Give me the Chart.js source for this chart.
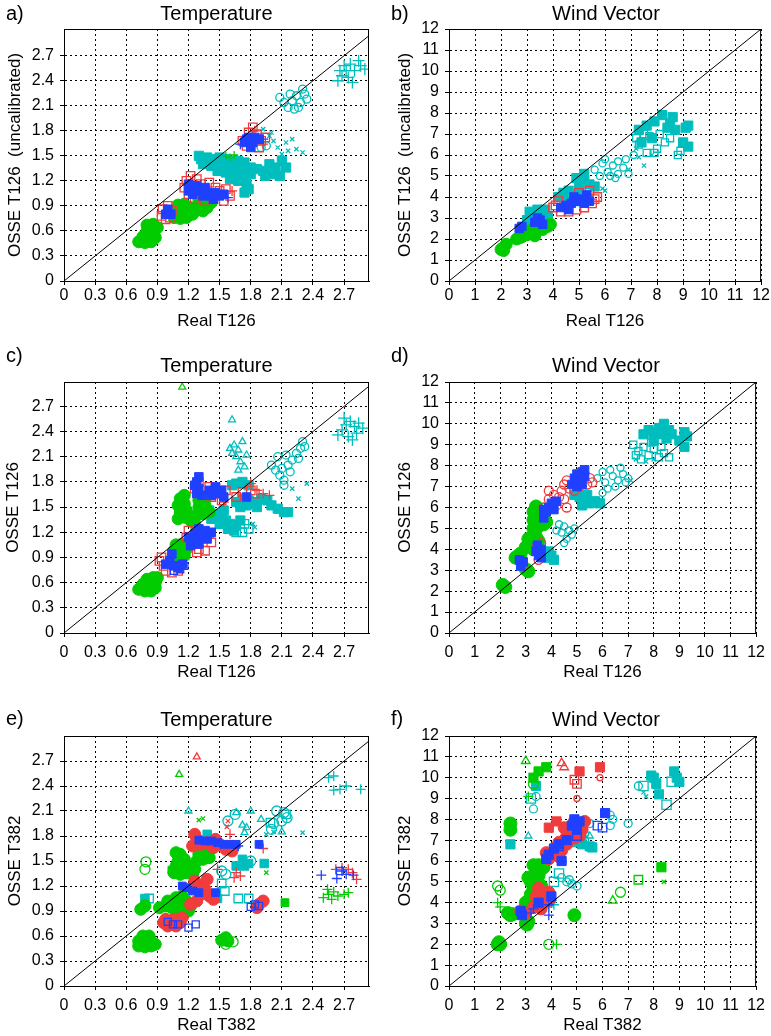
<!DOCTYPE html>
<html>
<head>
<meta charset="utf-8">
<script src="https://cdn.jsdelivr.net/npm/chart.js@4.4.0/dist/chart.umd.min.js"></script>
<style>
  body { margin: 0; background: #fff; width: 771px; height: 1036px; position: relative; overflow: hidden;
         font-family: "Liberation Sans", Arial, sans-serif; color: #000; }
  .panel { position: absolute; }
  .tag { position: absolute; font-size: 20px; line-height: 24px; }
  .ttl { position: absolute; font-size: 20px; line-height: 24px; width: 240px; text-align: center; }
</style>
</head>
<body>
<script>
// axis ticks
const tempTicks = [0, 0.3, 0.6, 0.9, 1.2, 1.5, 1.8, 2.1, 2.4, 2.7]
const tempTickLabels = ['0', '0.3', '0.6', '0.9', '1.2', '1.5', '1.8', '2.1', '2.4', '2.7']
const windTicks = [0, 1, 2, 3, 4, 5, 6, 7, 8, 9, 10, 11, 12]
const windTickLabels = ['0', '1', '2', '3', '4', '5', '6', '7', '8', '9', '10', '11', '12']
const tempDiag = [0, 3.2]
const windDiag = [0, 12]

// a) Temperature, OSSE T126 (uncalibrated) vs Real T126
const aGreen = [[0.72,0.47],[0.78,0.46],[0.84,0.47],[0.76,0.53],[0.82,0.53],[0.88,0.52],[0.8,0.6],[0.86,0.6],[0.8,0.67],[0.86,0.68],[0.9,0.64],
  [1.06,0.76],[1.12,0.75],[1.18,0.76],[1.06,0.84],[1.12,0.84],[1.18,0.84],[1.1,0.91],[1.16,0.92],[1.22,0.88],[1.24,0.8],[1.28,0.86],[1.32,0.92],[1.36,0.96],[1.3,0.98],[1.38,0.88],[1.42,0.94],[1.34,0.84]]
const aGreenCross = [[1.56,1.5],[1.6,1.48],[1.64,1.51]]
const aRed = [[0.94,0.78],[0.98,0.74],[1.02,0.76],[0.95,0.86],[1.0,0.9],[1.04,0.84],
  [1.18,1.2],[1.22,1.26],[1.28,1.22],[1.24,1.14],[1.16,1.12],[1.32,1.16],[1.3,1.04],[1.26,0.98],[1.36,0.96],[1.44,0.98],[1.5,1.08],[1.56,1.1],[1.6,1.02],[1.54,0.96],[1.46,1.12],[1.4,1.18],[1.2,1.04],
  [1.72,1.68],[1.78,1.78],[1.82,1.84],[1.86,1.76],[1.9,1.68],[1.88,1.6],[1.76,1.62],[1.94,1.72]]
const aRedCross = [[1.62,1.08],[1.84,1.8],[1.92,1.64]]
const aBlue = [[0.98,0.8],[1.0,0.86],[1.03,0.8],
  [1.2,1.16],[1.24,1.1],[1.28,1.14],[1.24,1.04],[1.3,1.08],[1.34,1.02],[1.38,1.06],[1.42,1.02],[1.46,1.06],[1.5,1.02],[1.54,1.04],[1.36,1.12],[1.2,1.08],[1.44,0.98],
  [1.74,1.66],[1.78,1.72],[1.84,1.72],[1.82,1.66],[1.88,1.7],[1.8,1.6],[1.76,1.7]]
const aBlueCross = [[1.7,1.64],[1.92,1.7],[1.58,1.0]]
const aCyanSq = [[1.32,1.46],[1.38,1.48],[1.44,1.46],[1.5,1.48],[1.56,1.46],[1.62,1.44],[1.68,1.44],[1.74,1.42],[1.34,1.4],[1.42,1.38],[1.5,1.4],[1.58,1.38],[1.66,1.36],[1.74,1.34],[1.8,1.36],[1.86,1.34],
  [1.48,1.32],[1.56,1.3],[1.64,1.28],[1.72,1.26],[1.8,1.28],[1.6,1.22],[1.68,1.2],[1.76,1.16],[1.78,1.1],[1.74,1.06],[1.92,1.32],[1.98,1.4],[2.04,1.36],[2.1,1.44],[2.14,1.36],[2.0,1.28],[2.08,1.26],[1.94,1.26],[1.3,1.5]]
const aCyanCircle = [[2.08,2.2],[2.12,2.14],[2.16,2.08],[2.2,2.16],[2.24,2.22],[2.28,2.14],[2.32,2.24],[2.26,2.08],[2.3,2.3],[2.18,2.24],[2.34,2.18],[2.22,2.06],[1.9,1.6],[1.95,1.62]]
const aCyanCross = [[2.64,2.4],[2.68,2.46],[2.72,2.52],[2.76,2.6],[2.8,2.52],[2.86,2.58],[2.9,2.54],[2.74,2.44],[2.78,2.38],[2.7,2.58],[2.84,2.64],[2.66,2.52]]
const aCyanX = [[1.92,1.82],[1.98,1.74],[2.02,1.68],[2.06,1.6],[2.1,1.52],[2.14,1.66],[2.2,1.7],[2.24,1.58],[2.3,1.54],[2.0,1.78],[2.08,1.48],[2.16,1.56]]

// b) Wind Vector, OSSE T126 (uncalibrated) vs Real T126
const bGreen = [[2.0,1.5],[2.1,1.6],[2.2,1.75],[2.1,1.45],[2.6,2.0],[2.8,2.1],[3.0,2.2],[3.2,2.3],[3.4,2.4],[3.6,2.45],[3.8,2.6],[3.9,2.7],[2.9,2.3],[3.3,2.15],[3.5,2.55],[2.7,2.05],[3.1,2.4]]
const bBlue = [[2.7,2.5],[2.8,2.6],[3.3,2.8],[3.5,2.9],[3.6,2.7],[3.4,3.0],[4.3,3.5],[4.5,3.6],[4.7,3.7],[4.9,3.8],[5.1,3.9],[5.3,4.1],[5.2,3.7],[4.6,3.4],[4.8,4.0],[5.4,3.8]]
const bRed = [[4.1,3.6],[4.3,3.3],[4.6,3.3],[4.9,3.4],[5.2,3.5],[5.5,3.7],[5.7,4.0],[5.6,3.9],[4.2,3.8],[4.0,3.5],[5.0,4.2],[5.4,4.3]]
const bCyanSq = [[3.1,3.3],[3.4,3.4],[3.6,3.2],[3.8,3.1],[3.3,3.0],[3.7,3.4],[3.0,2.9],
  [4.2,4.0],[4.4,4.2],[4.6,4.3],[4.8,4.1],[5.0,4.3],[4.5,3.8],[4.9,3.8],[5.0,4.7],[5.2,4.8],[5.4,4.6],[5.6,4.5],[5.2,5.1],[4.9,4.9],
  [7.3,7.2],[7.6,7.4],[7.9,7.6],[8.2,7.9],[8.5,7.5],[8.7,7.2],[9.1,7.3],[9.2,7.4],[9.0,6.6],[9.2,6.4],[8.4,7.3],[7.8,6.8],[7.4,6.6],[8.6,7.8]]
const bCyanOpenSq = [[7.3,6.5],[7.6,6.1],[8.0,6.3],[8.3,6.6],[8.1,7.0],[8.8,6.0],[7.7,6.9],[8.5,6.8],[7.5,7.0],[8.9,6.2],[7.9,6.1],[7.2,6.8]]
const bCyanCircle = [[5.6,5.3],[5.9,5.6],[6.1,5.2],[6.3,5.5],[6.5,5.7],[6.7,5.4],[6.2,5.0],[6.5,5.1],[6.9,5.1],[5.8,5.0],[6.0,5.8],[6.4,4.9],[6.8,5.8],[7.1,6.0]]
const bCyanX = [[7.5,5.5],[7.2,6.3],[6.9,5.3],[7.8,6.0],[7.3,5.9],[5.9,4.4],[6.0,4.3]]

// c) Temperature, OSSE T126 vs Real T126
const cGreen = [[0.72,0.52],[0.78,0.5],[0.84,0.5],[0.88,0.54],[0.76,0.58],[0.82,0.58],[0.88,0.6],[0.8,0.64],[0.86,0.66],[0.9,0.66],
  [1.05,0.9],[1.1,0.88],[1.16,0.92],[1.06,0.98],[1.12,0.98],[1.18,1.0],[1.08,1.05],[1.14,1.06],[1.2,1.06],
  [1.1,1.36],[1.16,1.38],[1.12,1.44],[1.18,1.46],[1.1,1.52],[1.16,1.54],[1.12,1.6],[1.16,1.64],
  [1.28,1.4],[1.34,1.42],[1.4,1.44],[1.3,1.5],[1.36,1.52],[1.3,1.58],[1.36,1.6],[1.22,1.34],[1.26,1.3]]
const cGreenTri = [[1.14,2.93]]
const cRed = [[0.92,0.86],[0.96,0.8],[0.98,0.74],[1.04,0.72],[1.1,0.74],[0.94,0.9],
  [1.2,1.22],[1.18,1.14],[1.24,1.06],[1.3,1.0],[1.36,0.98],[1.28,0.96],[1.42,1.08],[1.4,1.18],
  [1.26,1.72],[1.3,1.8],[1.4,1.74],[1.46,1.72],[1.5,1.66],[1.52,1.58],[1.42,1.62],[1.56,1.7],[1.66,1.62],[1.72,1.68],[1.8,1.7],[1.84,1.66]]
const cRedCross = [[1.86,1.7],[1.92,1.66],[1.98,1.64],[1.8,1.78],[1.54,1.56]]
const cBlue = [[0.98,0.82],[1.02,0.86],[1.06,0.8],[1.1,0.78],[1.04,0.94],[1.14,0.82],
  [1.2,1.14],[1.24,1.1],[1.3,1.06],[1.26,1.18],[1.32,1.14],[1.38,1.12],[1.36,1.22],[1.3,1.24],[1.42,1.2],[1.22,1.04],
  [1.28,1.66],[1.3,1.72],[1.28,1.8],[1.3,1.86],[1.33,1.64],[1.26,1.76],
  [1.42,1.64],[1.48,1.66],[1.52,1.7],[1.46,1.74],[1.54,1.62],[1.4,1.7],[1.76,1.62]]
const cBlueOpen = [[1.12,0.76],[1.06,0.74],[1.16,0.8]]
const cCyanSq = [[1.4,1.46],[1.46,1.42],[1.52,1.38],[1.42,1.36],[1.5,1.3],[1.56,1.34],[1.6,1.3],[1.66,1.28],[1.58,1.24],[1.64,1.22],[1.7,1.34],[1.54,1.46],
  [1.66,1.56],[1.72,1.6],[1.78,1.58],[1.84,1.56],[1.9,1.6],[1.96,1.58],[2.0,1.52],[1.86,1.5],[1.76,1.52],[2.06,1.48],[2.12,1.44],[2.16,1.44],[1.7,1.5],
  [1.66,1.78],[1.72,1.8],[1.78,1.76],[1.62,1.76]]
const cCyanOpenSq = [[1.66,1.2],[1.72,1.2],[1.78,1.24],[1.74,1.3]]
const cCyanTri = [[1.6,2.2],[1.64,2.24],[1.68,2.18],[1.72,2.28],[1.66,2.1],[1.7,2.04],[1.74,1.98],[1.62,2.14],[1.68,1.94],[1.76,2.12],[1.62,2.54]]
const cCyanCircle = [[2.0,2.0],[2.04,1.94],[2.08,1.88],[2.12,1.82],[2.1,1.96],[2.16,2.0],[2.14,2.12],[2.2,2.06],[2.24,2.14],[2.28,2.2],[2.32,2.22],[2.26,2.08],[2.18,1.92],[2.06,2.1],[2.3,2.28],[2.12,1.76]]
const cCyanCross = [[2.64,2.36],[2.68,2.42],[2.72,2.48],[2.76,2.52],[2.8,2.46],[2.84,2.5],[2.88,2.44],[2.74,2.34],[2.78,2.3],[2.7,2.56],[2.82,2.38]]
const cCyanX = [[2.2,1.72],[2.34,1.78],[2.26,1.6],[1.82,1.3],[1.84,1.26]]

// d) Wind Vector, OSSE T126 vs Real T126
const dGreen = [[2.1,2.3],[2.2,2.2],[3.1,2.95],[3.0,3.05],[2.7,3.7],[2.6,3.6],[2.8,3.8],[3.0,4.1],[3.2,4.3],[3.4,4.6],[3.1,4.5],[3.3,4.0],[3.5,4.4],
  [3.3,5.0],[3.5,5.1],[3.7,5.2],[3.3,5.4],[3.5,5.5],[3.7,5.6],[3.3,5.8],[3.5,5.9],[3.4,6.05],[3.8,5.3]]
const dBlue = [[2.8,3.2],[2.9,3.4],[2.75,3.5],[3.5,3.7],[3.6,4.0],[3.45,4.2],[3.4,3.9],[3.6,3.6],
  [3.7,5.5],[3.8,5.8],[3.9,6.0],[4.1,5.9],[4.0,6.2],[4.2,6.3],[3.7,5.9],
  [4.8,7.1],[4.9,7.4],[5.0,7.6],[5.1,7.3],[5.2,7.7],[5.3,7.5],[5.3,7.8],[5.0,7.0],[5.2,7.1]]
const dRed = [[3.5,3.5],[3.4,4.1],[3.6,4.3],[2.9,3.2],[3.7,6.0],[3.9,6.4],[4.1,6.6],[4.3,6.5],[4.4,6.8],[4.5,7.1],[4.6,7.3],[4.2,6.1],[4.5,6.4],[4.7,6.9],[4.9,6.8],[5.1,7.0],[5.4,7.1],[5.6,7.2],[5.5,7.4],[4.6,6.0],[3.9,6.8]]
const dCyanSq = [[4.9,6.6],[5.1,6.5],[5.3,6.3],[5.5,6.2],[5.7,6.3],[5.9,6.2],[5.4,6.6],[5.0,6.8],[5.2,6.1],
  [3.8,3.6],[4.0,3.7],[3.9,3.9],[3.7,3.8],[4.1,3.5],
  [7.6,9.5],[7.8,9.7],[8.0,9.6],[8.2,9.8],[8.4,9.9],[8.6,9.7],[8.7,9.5],[8.5,9.3],[8.3,9.5],[8.0,9.2],[9.2,9.6],[9.3,9.4],[9.2,8.9],[9.0,9.2],[8.4,10.0]]
const dCyanOpenSq = [[7.2,9.0],[7.4,8.7],[7.6,8.9],[7.8,8.5],[8.0,8.8],[8.2,8.4],[8.4,8.6],[8.6,8.4],[7.5,8.3],[7.9,9.1],[8.3,8.9],[7.3,8.5]]
const dCyanCircle = [[5.8,7.4],[6.0,7.7],[6.1,7.2],[6.3,7.8],[6.4,7.5],[6.6,7.3],[6.7,7.9],[6.8,7.6],[6.9,7.2],[6.2,6.9],[6.0,6.7],[6.5,7.0],[7.0,7.4],
  [4.3,5.2],[4.5,5.1],[4.7,4.9],[4.4,4.8],[4.6,4.5],[4.8,4.7],[4.2,4.9],[4.5,4.3],[4.9,5.0]]
const dCyanX = [[7.3,8.3],[7.7,8.2],[8.0,8.3],[7.1,7.3]]

// e) Temperature, OSSE T382 vs Real T382
const eGreen = [[0.72,0.48],[0.78,0.47],[0.84,0.48],[0.72,0.54],[0.78,0.53],[0.84,0.54],[0.76,0.6],[0.82,0.6],[0.88,0.5],
  [0.92,0.94],[0.98,0.96],[1.04,0.94],[1.1,0.92],[1.16,0.94],[1.22,0.96],[1.0,1.02],[1.06,1.0],[1.12,1.0],[1.18,1.02],[1.08,1.06],[1.14,1.08],[1.2,0.9],
  [1.06,1.36],[1.12,1.34],[1.18,1.36],[1.08,1.44],[1.14,1.42],[1.1,1.5],[1.16,1.52],[1.12,1.58],[1.08,1.6],[1.2,1.44],
  [1.28,1.5],[1.34,1.52],[1.4,1.54],[1.3,1.58],[1.36,1.6],[1.24,1.34],[1.26,1.4],
  [0.74,0.92],[0.78,0.96],[1.52,0.55],[1.58,0.54],[1.56,0.58]]
const eGreenSq = [[1.04,1.39],[2.13,1.0],[0.78,0.98]]
const eGreenCross = [[2.5,1.06],[2.55,1.1],[2.6,1.13],[2.64,1.08],[2.7,1.1],[2.58,1.04],[2.74,1.12],[2.54,1.16]]
const eGreenOpen = [[0.79,1.49],[0.78,1.4],[1.63,0.53],[1.56,0.5]]
const eGreenTri = [[1.11,2.54]]
const eGreenX = [[1.3,1.99],[1.95,1.36],[1.34,2.01]]
const eRed = [[0.96,0.76],[1.0,0.72],[1.04,0.74],[1.08,0.72],[1.12,0.76],[0.98,0.8],[1.06,0.8],[1.14,0.82],
  [1.26,1.82],[1.28,1.76],[1.32,1.7],[1.38,1.72],[1.44,1.66],[1.5,1.7],[1.56,1.64],[1.62,1.62],[1.24,1.68],[1.46,1.76],
  [1.26,1.26],[1.3,1.2],[1.36,1.16],[1.32,1.1],[1.4,1.08],[1.44,1.04],[1.28,1.02],[1.38,1.28],
  [1.88,0.98],[1.92,1.02],[1.86,0.94],[1.22,0.98]]
const eRedCross = [[1.66,1.36],[1.7,1.32],[1.64,1.3],[1.92,1.65],[2.62,1.4],[2.68,1.42],[2.74,1.4],[2.78,1.36],[2.82,1.28],[1.6,1.82],[1.48,1.4]]
const eRedTri = [[1.28,2.75]]
const eRedX = [[1.57,1.91],[1.58,1.98]]
const eBlue = [[1.14,1.2],[1.18,1.18],[1.3,1.75],[1.36,1.74],[1.42,1.74],[1.48,1.72],[1.54,1.7],[1.6,1.7],[1.66,1.7],[1.88,1.7],[1.3,1.12],[1.46,1.12],[1.24,1.14]]
const eBlueOpen = [[1.0,0.77],[1.05,0.74],[1.1,0.74],[1.2,0.7],[1.27,0.74],[1.8,0.95],[1.84,0.98],[1.88,0.96],[2.66,1.38]]
const eBlueCross = [[2.48,1.33],[2.63,1.29],[2.72,1.34],[2.79,1.33],[2.68,1.38],[1.68,1.68]]
const eCyanCross = [[2.55,2.5],[2.6,2.52],[2.6,2.35],[2.66,2.36],[2.72,2.4],[2.86,2.36]]
const eCyanCircle = [[2.05,2.1],[2.12,2.08],[2.15,2.02],[2.1,1.98],[2.02,1.95],[2.0,1.88],[1.65,2.06],[1.58,1.98],[1.52,1.38],[1.56,1.34],[1.8,1.5]]
const eCyanTri = [[1.72,1.93],[1.76,1.9],[1.8,2.1],[1.9,2.0],[2.1,1.85],[1.2,2.1],[1.66,2.08],[1.74,1.84]]
const eCyanSq = [[1.72,1.52],[1.78,1.47],[1.93,1.47],[1.66,1.44],[1.74,1.44],[1.42,1.06],[1.48,1.05],[0.78,1.05],[1.38,1.82]]
const eCyanOpenSq = [[1.55,1.14],[1.52,1.23],[1.68,1.05],[1.78,1.05],[0.82,1.05],[1.99,1.96],[2.14,2.06]]
const eCyanX = [[1.95,1.82],[2.3,1.84],[2.02,1.85]]

// f) Wind Vector, OSSE T382 vs Real T382
const fGreen = [[1.9,2.0],[2.0,2.0],[1.95,2.1],[2.4,3.4],[2.5,3.45],[2.3,3.5],[3.0,3.0],[3.1,3.1],[3.05,2.95],
  [3.1,4.1],[3.2,4.4],[3.3,4.7],[3.2,5.0],[3.3,5.3],[3.4,5.6],[3.5,5.8],[3.6,5.6],[3.5,5.3],[3.4,5.0],[3.1,5.2],[3.3,5.8],[3.0,4.0],[3.4,4.3],[3.6,4.8],[3.7,5.7],[3.2,4.0],
  [2.4,7.8],[2.4,7.5],[4.9,3.4]]
const fGreenSq = [[3.5,10.3],[3.8,10.5],[8.3,5.7],[3.3,10.0]]
const fGreenOpen = [[3.9,2.0],[1.9,4.8],[2.0,4.6],[3.3,9.7],[6.7,4.5]]
const fGreenCross = [[4.2,2.0],[1.9,4.0],[2.0,3.8],[3.1,9.1]]
const fGreenTri = [[3.0,10.8],[6.4,4.1]]
const fGreenOpenSq = [[7.4,5.1]]
const fGreenX = [[8.4,5.0]]
const fRed = [[3.9,6.1],[4.0,6.3],[4.1,6.5],[4.2,6.7],[4.3,6.9],[4.5,7.0],[4.6,7.2],[4.7,7.5],[4.8,7.7],[4.9,7.9],[5.0,7.6],[5.2,7.5],[5.1,7.2],[4.4,6.5],[4.3,6.2],[4.6,6.8],[4.9,7.1],[5.3,7.9],[4.5,7.6],[3.8,6.4],
  [3.4,4.3],[3.6,4.5],[3.8,4.3],[3.5,4.0],[3.7,4.0],[3.9,4.1],[3.3,3.8],[3.6,3.7],[2.8,3.6],[3.0,3.5],[3.9,4.5],[3.5,4.7]]
const fRedSq = [[3.9,7.6],[4.2,7.9],[5.1,10.3],[5.9,10.5]]
const fRedOpenSq = [[4.9,9.9],[5.0,9.7],[4.7,7.6]]
const fRedTri = [[4.4,10.7],[4.5,10.5]]
const fRedSmall = [[5.0,9.0],[5.9,10.0]]
const fBlue = [[4.9,8.0],[5.1,7.9],[4.8,7.7],[5.0,7.5],[3.8,6.1],[3.9,6.3],[4.1,6.6],[4.3,6.8],[4.4,6.0],[2.85,3.4],[2.8,3.6],[3.5,4.0],[4.0,4.3],[6.1,8.3],[4.6,7.0]]
const fBlueOpenSq = [[5.8,7.7],[6.0,7.6],[4.3,6.7],[5.0,7.2]]
const fBlueCross = [[3.3,3.7],[3.9,3.4],[3.9,3.9],[3.2,3.5],[4.0,4.1]]
const fCyanSq = [[5.0,6.9],[5.2,6.8],[5.5,6.7],[5.6,6.65],[4.9,7.0],[7.9,10.1],[8.1,9.7],[8.8,10.3],[9.0,9.8],[8.2,9.2],[8.0,10.0],[8.9,10.0],[2.4,6.8],[3.4,9.6]]
const fCyanOpenSq = [[7.6,9.6],[8.7,9.8],[8.5,8.7],[3.2,9.0],[4.3,5.4],[4.1,5.0]]
const fCyanCircle = [[4.4,5.2],[4.6,5.0],[4.8,4.9],[5.0,4.8],[4.7,5.1],[5.2,7.2],[5.3,7.3],[6.3,8.2],[6.4,8.0],[5.5,7.8],[7.0,7.8],[6.3,7.7],[3.3,8.5],[3.4,9.1],[7.4,9.6],[5.3,7.0]]
const fCyanCross = [[4.0,4.0],[4.1,3.9],[4.0,4.2],[3.9,3.8]]
const fCyanTri = [[3.1,7.2],[5.5,7.2]]
const fCyanX = [[7.7,9.1],[7.6,9.3],[8.2,9.9]]

const GREEN = '#00cc00', BLUE = '#2040ff', RED = '#f03c3c', CYAN = '#00bebe'

function pts(list) { return list.map(p => ({ x: p[0], y: p[1] })) }

// [data, colour, pointStyle, radius, filled]
function series(list, color, shape, r, filled) {
  return {
    data: pts(list),
    pointStyle: shape,
    pointRadius: r,
    borderWidth: filled ? 1 : 1.3,
    borderColor: color,
    backgroundColor: filled ? color : 'rgba(0,0,0,0)',
  }
}

function diagonal(d) {
  return {
    data: pts([[d[0], d[0]], [d[1], d[1]]]),
    showLine: true,
    borderColor: '#000',
    borderWidth: 1,
    pointRadius: 0,
  }
}

const boxPlugin = {
  id: 'box',
  afterDraw(chart) {
    const { ctx, chartArea: c } = chart
    ctx.save()
    ctx.strokeStyle = '#000'
    ctx.lineWidth = 1
    ctx.strokeRect(c.left + 0.5, c.top + 0.5, c.right - c.left - 1, c.bottom - c.top)
    ctx.restore()
  },
}

const panels = [
  { tag: 'a)', title: 'Temperature', xTitle: 'Real T126', yTitle: 'OSSE T126  (uncalibrated)', kind: 'temp', yMax: 3.02,
    left: 0, top: 0, w: 385, h: 340, padTop: 29, padRight: 16, xH: 59, xTickPad: 1, xTitlePad: 8, yTitlePad: 5, tagY: 1, titleY: 1,
    sets: [
      series(aBlueCross, BLUE, 'cross', 5, false), series(aBlue, BLUE, 'rect', 6, true), series(aRedCross, RED, 'cross', 5, false), series(aRed, RED, 'rect', 6, false),
      series(aGreenCross, GREEN, 'cross', 4, false), series(aGreen, GREEN, 'circle', 6, true),
      series(aCyanX, CYAN, 'crossRot', 3, false), series(aCyanCross, CYAN, 'cross', 6, false), series(aCyanCircle, CYAN, 'circle', 4, false), series(aCyanSq, CYAN, 'rect', 6.5, true),
    ] },
  { tag: 'b)', title: 'Wind Vector', xTitle: 'Real T126', yTitle: 'OSSE T126  (uncalibrated)', kind: 'wind', yMax: 12,
    left: 385, top: 0, w: 386, h: 340, padTop: 29, padRight: 8, xH: 59, xTickPad: 1, xTitlePad: 8, yTitlePad: 10, tagY: 1, titleY: 1,
    sets: [
      series(bBlue, BLUE, 'rect', 6, true), series(bRed, RED, 'rect', 6, false), series(bGreen, GREEN, 'circle', 6, true),
      series(bCyanX, CYAN, 'crossRot', 3, false), series(bCyanCircle, CYAN, 'circle', 3.5, false), series(bCyanOpenSq, CYAN, 'rect', 5, false), series(bCyanSq, CYAN, 'rect', 6.5, true),
    ] },
  { tag: 'c)', title: 'Temperature', xTitle: 'Real T126', yTitle: 'OSSE T126', kind: 'temp', yMax: 2.99,
    left: 0, top: 340, w: 385, h: 345, padTop: 42, padRight: 16, xH: 52, xTickPad: 6, xTitlePad: 2, yTitlePad: 3, tagY: 3, titleY: 13,
    sets: [
      series(cBlueOpen, BLUE, 'rect', 5, false), series(cBlue, BLUE, 'rect', 6, true), series(cRedCross, RED, 'cross', 5, false), series(cRed, RED, 'rect', 6, false),
      series(cGreenTri, GREEN, 'triangle', 4, false), series(cGreen, GREEN, 'circle', 6, true),
      series(cCyanX, CYAN, 'crossRot', 3, false), series(cCyanCross, CYAN, 'cross', 6, false), series(cCyanCircle, CYAN, 'circle', 4, false), series(cCyanTri, CYAN, 'triangle', 4, false),
      series(cCyanOpenSq, CYAN, 'rect', 6, false), series(cCyanSq, CYAN, 'rect', 6.5, true),
    ] },
  { tag: 'd)', title: 'Wind Vector', xTitle: 'Real T126', yTitle: 'OSSE T126', kind: 'wind', yMax: 12,
    left: 385, top: 340, w: 386, h: 345, padTop: 42, padRight: 8, xH: 52, xTickPad: 6, xTitlePad: 2, yTitlePad: 10, tagY: 3, titleY: 13,
    sets: [
      series(dBlue, BLUE, 'rect', 6, true), series(dRed, RED, 'circle', 4.5, false), series(dGreen, GREEN, 'circle', 6.5, true),
      series(dCyanX, CYAN, 'crossRot', 3, false), series(dCyanCircle, CYAN, 'circle', 3.5, false), series(dCyanOpenSq, CYAN, 'rect', 5, false), series(dCyanSq, CYAN, 'rect', 6.5, true),
    ] },
  { tag: 'e)', title: 'Temperature', xTitle: 'Real T382', yTitle: 'OSSE T382', kind: 'temp', yMax: 3.0,
    left: 0, top: 690, w: 385, h: 346, padTop: 46, padRight: 16, xH: 50, xTickPad: 6, xTitlePad: 0, yTitlePad: 5, tagY: 16, titleY: 17,
    sets: [
      series(eBlueCross, BLUE, 'cross', 5, false), series(eBlueOpen, BLUE, 'rect', 5, false), series(eBlue, BLUE, 'rect', 5.5, true),
      series(eRedX, RED, 'crossRot', 3, false), series(eRedTri, RED, 'triangle', 4, false), series(eRedCross, RED, 'cross', 5, false), series(eRed, RED, 'circle', 6, true),
      series(eGreenX, GREEN, 'crossRot', 3, false), series(eGreenTri, GREEN, 'triangle', 4, false), series(eGreenOpen, GREEN, 'circle', 5, false), series(eGreenCross, GREEN, 'cross', 5, false),
      series(eGreenSq, GREEN, 'rect', 5.5, true), series(eGreen, GREEN, 'circle', 6, true),
      series(eCyanX, CYAN, 'crossRot', 3, false), series(eCyanCross, CYAN, 'cross', 5, false), series(eCyanCircle, CYAN, 'circle', 5, false), series(eCyanTri, CYAN, 'triangle', 4, false),
      series(eCyanOpenSq, CYAN, 'rect', 6, false), series(eCyanSq, CYAN, 'rect', 6, true),
    ] },
  { tag: 'f)', title: 'Wind Vector', xTitle: 'Real T382', yTitle: 'OSSE T382', kind: 'wind', yMax: 12,
    left: 385, top: 690, w: 386, h: 346, padTop: 46, padRight: 8, xH: 50, xTickPad: 6, xTitlePad: 0, yTitlePad: 10, tagY: 16, titleY: 17,
    sets: [
      series(fBlueCross, BLUE, 'cross', 5, false), series(fBlueOpenSq, BLUE, 'rect', 6, false), series(fBlue, BLUE, 'rect', 6.5, true),
      series(fRedSmall, RED, 'circle', 3, false), series(fRedTri, RED, 'triangle', 5, false), series(fRedOpenSq, RED, 'rect', 6, false), series(fRedSq, RED, 'rect', 6.5, true), series(fRed, RED, 'circle', 6, true),
      series(fGreenX, GREEN, 'crossRot', 3, false), series(fGreenOpenSq, GREEN, 'rect', 6, false), series(fGreenTri, GREEN, 'triangle', 5, false), series(fGreenCross, GREEN, 'cross', 5, false),
      series(fGreenOpen, GREEN, 'circle', 5, false), series(fGreenSq, GREEN, 'rect', 6.5, true), series(fGreen, GREEN, 'circle', 6.5, true),
      series(fCyanX, CYAN, 'crossRot', 3, false), series(fCyanTri, CYAN, 'triangle', 4, false), series(fCyanCross, CYAN, 'cross', 5, false), series(fCyanCircle, CYAN, 'circle', 4, false),
      series(fCyanOpenSq, CYAN, 'rect', 6.5, false), series(fCyanSq, CYAN, 'rect', 6.5, true),
    ] },
]

function axis(vals, labels, max, opts) {
  return Object.assign({
    type: 'linear',
    min: 0,
    max: max,
    afterBuildTicks: s => { s.ticks = vals.map(v => ({ value: v })) },
    ticks: {
      color: '#000',
      font: { family: '"Liberation Sans", Arial, sans-serif', size: 16 },
      maxRotation: 0,
      autoSkip: false,
      callback: (v, i) => labels[i],
    },
    grid: { color: '#000', lineWidth: 1, tickLength: 4, tickBorderDash: [], tickColor: '#000' },
    border: { display: true, color: '#000', width: 1, dash: [2, 3] },
  }, opts)
}

function render_panels() {
  panels.forEach(p => {
    const box = document.createElement('div')
    box.className = 'panel'
    box.style.left = p.left + 'px'
    box.style.top = p.top + 'px'
    const cv = document.createElement('canvas')
    cv.width = p.w
    cv.height = p.h
    box.appendChild(cv)
    document.body.appendChild(box)

    const temp = p.kind === 'temp'
    const vals = temp ? tempTicks : windTicks
    const labels = temp ? tempTickLabels : windTickLabels
    const xMax = temp ? 2.94 : 12
    const titleFont = { family: '"Liberation Sans", Arial, sans-serif', size: 17 }

    const xAxis = axis(vals, labels, xMax, {
      afterFit: s => { s.height = p.xH },
      title: { display: true, text: p.xTitle, color: '#000', font: titleFont, padding: { top: 0, bottom: p.xTitlePad } },
    })
    xAxis.ticks.padding = p.xTickPad
    const yAxis = axis(vals, labels, p.yMax, {
      afterFit: s => { s.width = 64 },
      title: { display: true, text: p.yTitle, color: '#000', font: titleFont, padding: { top: p.yTitlePad, bottom: 0 } },
    })
    yAxis.ticks.padding = 6

    new Chart(cv, {
      type: 'scatter',
      data: { datasets: [diagonal(temp ? tempDiag : windDiag)].concat(p.sets) },
      options: {
        responsive: false,
        animation: false,
        events: [],
        layout: { padding: { top: p.padTop, right: p.padRight, left: 0, bottom: 0 } },
        plugins: { legend: { display: false }, tooltip: { enabled: false } },
        scales: { x: xAxis, y: yAxis },
      },
      plugins: [boxPlugin],
    })

    const tag = document.createElement('div')
    tag.className = 'tag'
    tag.textContent = p.tag
    tag.style.left = (p.left + 6) + 'px'
    tag.style.top = (p.top + p.tagY) + 'px'
    document.body.appendChild(tag)

    const ttl = document.createElement('div')
    ttl.className = 'ttl'
    ttl.textContent = p.title
    ttl.style.left = (p.left + 64 + (p.w - p.padRight - 64) / 2 - 120) + 'px'
    ttl.style.top = (p.top + p.titleY) + 'px'
    document.body.appendChild(ttl)
  })
}

document.addEventListener('DOMContentLoaded', render_panels)
</script>
</body>
</html>
